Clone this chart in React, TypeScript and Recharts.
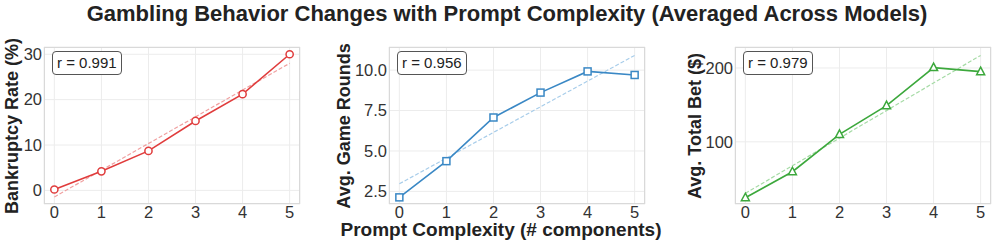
import { LineChart, Line, XAxis, YAxis, CartesianGrid } from "recharts";

const complexity = [0, 1, 2, 3, 4, 5];
const bankruptcyRate = [0.2, 4.2, 8.7, 15.3, 21.2, 30.0];
const gameRounds = [2.13, 4.37, 7.07, 8.61, 9.92, 9.7];
const totalBet = [24.3, 59.5, 110, 149, 200.5, 195];

const bankruptcyTrend = [-1.45, 28.0];
const roundsTrend = [2.97, 10.91];
const betTrend = [30.3, 217];
const trendX = [0, 5];

const correlations = ["0.991", "0.956", "0.979"];

const FONT = "'Liberation Sans', Arial, sans-serif";

type Marker = "circle" | "square" | "triangle";

function MarkerDot(props: any, shape: Marker, color: string) {
  const { cx, cy, index } = props;
  if (cx == null || cy == null) return null;
  if (shape === "circle")
    return <circle key={index} cx={cx} cy={cy} r={3.6} fill="#fff" stroke={color} strokeWidth={1.5} />;
  if (shape === "square")
    return <rect key={index} x={cx - 3.5} y={cy - 3.5} width={7} height={7} fill="#fff" stroke={color} strokeWidth={1.5} />;
  return (
    <polygon
      key={index}
      points={`${cx},${cy - 4.5} ${cx + 4},${cy + 3} ${cx - 4},${cy + 3}`}
      fill="#fff"
      stroke={color}
      strokeWidth={1.5}
    />
  );
}

interface PanelProps {
  left: number;
  plotLeft: number;
  values: number[];
  trend: number[];
  yDomain: [number, number];
  yTicks: number[];
  tickFmt: (v: number) => string;
  yLabel: string;
  labelX: number;
  color: string;
  trendColor: string;
  marker: Marker;
  r: string;
}

const PLOT_TOP = 47;
const PLOT_BOTTOM = 204;
const PLOT_W = 256;
const TICK_FONT = 16.5;

function Panel(p: PanelProps) {
  const width = p.plotLeft - p.left + PLOT_W + 2;
  const data = complexity.map((x, i) => ({ x, y: p.values[i] }));
  const trendData = trendX.map((x, i) => ({ x, t: p.trend[i] }));
  const axisW = p.plotLeft - p.left;
  return (
    <div style={{ position: "absolute", left: p.left, top: 0 }}>
      <LineChart
        width={width}
        height={246}
        margin={{ top: PLOT_TOP, right: 2, bottom: 0, left: 0 }}
      >
        <CartesianGrid stroke="#ececec" strokeWidth={1} />
        <XAxis
          dataKey="x"
          type="number"
          domain={[-0.22, 5.22]}
          ticks={complexity}
          allowDuplicatedCategory={false}
          height={246 - PLOT_BOTTOM}
          tickSize={0}
          tickMargin={2}
          axisLine={false}
          tick={{ fontSize: TICK_FONT, fill: "#333", fontFamily: FONT }}
        />
        <YAxis
          type="number"
          domain={p.yDomain}
          ticks={p.yTicks}
          width={axisW}
          tickSize={0}
          tickMargin={2}
          axisLine={false}
          tickFormatter={p.tickFmt}
          tick={{ fontSize: TICK_FONT, fill: "#333", fontFamily: FONT }}
          allowDataOverflow
        />
        <Line
          data={trendData}
          dataKey="t"
          stroke={p.trendColor}
          strokeWidth={1.2}
          strokeDasharray="4 2"
          dot={false}
          isAnimationActive={false}
        />
        <Line
          data={data}
          dataKey="y"
          stroke={p.color}
          strokeWidth={1.6}
          dot={(d: any) => MarkerDot(d, p.marker, p.color)}
          isAnimationActive={false}
        />
      </LineChart>
      {/* plot frame */}
      <div
        style={{
          position: "absolute",
          left: axisW,
          top: PLOT_TOP,
          width: PLOT_W,
          height: PLOT_BOTTOM - PLOT_TOP,
          border: "1px solid #d9d9d9",
          boxSizing: "border-box",
          pointerEvents: "none",
        }}
      />
      {/* correlation box */}
      <div
        style={{
          position: "absolute",
          left: axisW + 8,
          top: 51,
          height: 22,
          padding: "0 4px",
          border: "1px solid #555",
          borderRadius: 4,
          background: "#fff",
          fontFamily: FONT,
          fontSize: 15,
          lineHeight: "22px",
          color: "#222",
          whiteSpace: "nowrap",
        }}
      >
        r = {p.r}
      </div>
      {/* y label */}
      <div
        style={{
          position: "absolute",
          left: p.labelX - p.left - 100,
          top: 126 - 11,
          width: 200,
          height: 22,
          lineHeight: "22px",
          textAlign: "center",
          transform: "rotate(-90deg)",
          fontFamily: FONT,
          fontWeight: "bold",
          fontSize: 18,
          color: "#222",
          whiteSpace: "nowrap",
        }}
      >
        {p.yLabel}
      </div>
    </div>
  );
}

export default function App() {
  return (
    <div
      style={{
        position: "absolute",
        left: 0,
        top: 0,
        width: 996,
        height: 246,
        background: "#fff",
        overflow: "hidden",
        fontFamily: FONT,
      }}
    >
      <div
        style={{
          position: "absolute",
          left: 0,
          top: 1,
          width: 1014,
          textAlign: "center",
          fontWeight: "bold",
          fontSize: 22,
          color: "#222",
        }}
      >
        Gambling Behavior Changes with Prompt Complexity (Averaged Across Models)
      </div>
      <Panel
        left={0}
        plotLeft={44}
        values={bankruptcyRate}
        trend={bankruptcyTrend}
        yDomain={[-3.0, 31.6]}
        yTicks={[0, 10, 20, 30]}
        tickFmt={(v) => String(v)}
        yLabel="Bankruptcy Rate (%)"
        labelX={12}
        color="#e03c3c"
        trendColor="#f0a0a0"
        marker="circle"
        r={correlations[0]}
      />
      <Panel
        left={320}
        plotLeft={389}
        values={gameRounds}
        trend={roundsTrend}
        yDomain={[1.72, 11.43]}
        yTicks={[2.5, 5, 7.5, 10]}
        tickFmt={(v) => v.toFixed(1)}
        yLabel="Avg. Game Rounds"
        labelX={344}
        color="#3a88c5"
        trendColor="#a8cdea"
        marker="square"
        r={correlations[1]}
      />
      <Panel
        left={660}
        plotLeft={735}
        values={totalBet}
        trend={betTrend}
        yDomain={[15.8, 228.4]}
        yTicks={[100, 200]}
        tickFmt={(v) => String(v)}
        yLabel="Avg. Total Bet ($)"
        labelX={695}
        color="#3ca83c"
        trendColor="#a6dba6"
        marker="triangle"
        r={correlations[2]}
      />
      <div
        style={{
          position: "absolute",
          left: 300,
          top: 220,
          width: 402,
          textAlign: "center",
          fontWeight: "bold",
          fontSize: 19,
          lineHeight: "20px",
          color: "#222",
        }}
      >
        Prompt Complexity (# components)
      </div>
    </div>
  );
}
